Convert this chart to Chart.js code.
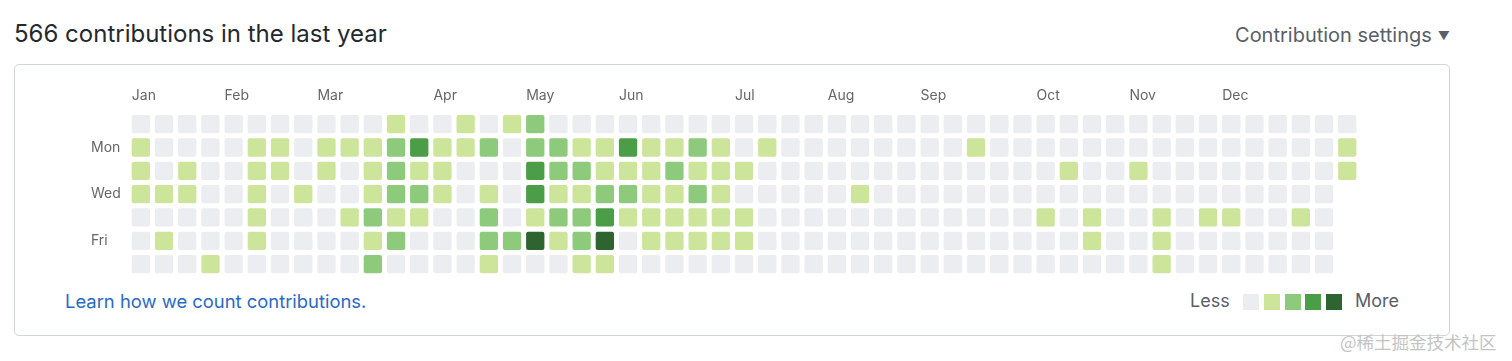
<!DOCTYPE html>
<html>
<head>
<meta charset="utf-8">
<script src="https://cdn.jsdelivr.net/npm/chart.js@4.4.1/dist/chart.umd.min.js"></script>
<style>
  body { margin: 0; background: #fff; font-family: Inter, "Liberation Sans", Arial, sans-serif; }
  #wrap { position: relative; width: 1512px; height: 361px; overflow: hidden; }
  .abs { position: absolute; white-space: nowrap; }
  #title { left: 14px; top: 19px; font-size: 24px; color: #24292e; }
  #settings { right: 62px; top: 23px; font-size: 20px; color: #586069; }
  #settings span { font-size: 12px; margin-left: 6px; position: relative; top: -2px; }
  #box { left: 14px; top: 64px; width: 1434px; height: 270px; border: 1px solid #d1d5da; border-radius: 5px; }
  #link { left: 65px; top: 290px; font-size: 18.4px; color: #2a6ac6; }
  #less { left: 1190px; top: 290px; font-size: 18px; color: #586069; }
  #more { left: 1355px; top: 290px; font-size: 18px; color: #586069; }
  .sq { position: absolute; top: 294px; width: 16px; height: 16px; }
  #mark { left: 1340px; top: 329px; font-size: 17.5px; color: #c4c4c4; font-family: "Noto Sans CJK SC", sans-serif; }
  #chart { position: absolute; left: 0; top: 0; }
</style>
</head>
<body>
<div id="wrap">
  <div class="abs" id="title">566 contributions in the last year</div>
  <div class="abs" id="settings">Contribution settings<span>&#9660;</span></div>
  <div class="abs" id="box"></div>
  <div class="abs" id="link">Learn how we count contributions.</div>
  <div class="abs" id="less">Less</div>
  <div class="abs" id="more">More</div>
  <div id="legend"></div>
  <div class="abs" id="mark">@稀土掘金技术社区</div>
  <canvas id="chart" width="1512" height="361"></canvas>
</div>
<script>
// contribution level (0-4) per week, one list per weekday
const sun = [0,0,0,0,0,0,0,0,0,0,0,1,0, 0,1,0,1,2,0,0,0,0,0,0,0,0, 0,0,0,0,0,0,0,0,0,0,0,0,0, 0,0,0,0,0,0,0,0,0,0,0,0,0,0];
const mon = [1,0,0,0,0,1,1,0,1,1,1,2,3, 1,1,2,0,2,2,1,1,3,1,1,2,1, 0,1,0,0,0,0,0,0,0,0,1,0,0, 0,0,0,0,0,0,0,0,0,0,0,0,0,1];
const tue = [1,0,1,0,0,1,1,0,1,0,1,2,1, 1,0,0,0,3,2,2,1,1,1,2,1,1, 1,0,0,0,0,0,0,0,0,0,0,0,0, 0,1,0,0,1,0,0,0,0,0,0,0,0,1];
const wed = [1,1,1,0,0,1,0,1,0,0,1,2,2, 1,0,1,0,3,1,1,2,2,1,1,2,1, 0,0,0,0,0,1,0,0,0,0,0,0,0, 0,0,0,0,0,0,0,0,0,0,0,0,0,null];
const thu = [0,0,0,0,0,1,0,0,0,1,2,1,1, 0,0,2,0,1,2,2,3,1,1,1,1,1, 1,0,0,0,0,0,0,0,0,0,0,0,0, 1,0,1,0,0,1,0,1,1,0,0,1,0,null];
const fri = [0,1,0,0,0,1,0,0,0,0,1,2,0, 0,0,2,2,4,1,2,4,0,1,1,1,1, 1,0,0,0,0,0,0,0,0,0,0,0,0, 0,0,1,0,0,1,0,0,0,0,0,0,0,null];
const sat = [0,0,0,1,0,0,0,0,0,0,2,0,0, 0,0,1,0,0,0,1,1,0,0,0,0,0, 0,0,0,0,0,0,0,0,0,0,0,0,0, 0,0,0,0,0,1,0,0,0,0,0,0,0,null];

const weeks = sun.map((_, i) => 'W' + (i + 1));
const monthLabels = ['Jan','Feb','Mar','Apr','May','Jun','Jul','Aug','Sep','Oct','Nov','Dec'];
const monthWeeks = [0, 4, 8, 13, 17, 21, 26, 30, 34, 39, 43, 47];
const dayLabels = ['Mon', 'Wed', 'Fri'];
const dayRows = [1, 3, 5];
const palette = ['#ebedf0', '#cde59a', '#8dca7c', '#4b9d47', '#2e6430'];

// legend squares
const legend = document.getElementById('legend');
palette.forEach((c, i) => {
  const d = document.createElement('div');
  d.className = 'sq';
  d.style.left = (1243 + i * 20.8) + 'px';
  d.style.background = c;
  legend.appendChild(d);
});

const rows = [sun, mon, tue, wed, thu, fri, sat];
const datasets = rows.map((lv, r) => ({
  data: lv.map(v => v === null ? null : [r + 0.108, r + 0.892]),
  backgroundColor: lv.map(v => v === null ? 'transparent' : palette[v]),
  grouped: false,
  barPercentage: 0.789,
  categoryPercentage: 1,
  borderRadius: 2,
  borderSkipped: false
}));

const tickFont = { size: 14, family: 'Inter, "Liberation Sans", Arial, sans-serif' };

new Chart(document.getElementById('chart'), {
  type: 'bar',
  data: { labels: weeks, datasets: datasets },
  options: {
    responsive: false,
    animation: false,
    layout: { padding: { left: 91, right: 153.15, top: 0, bottom: 85.2 } },
    plugins: { legend: { display: false }, tooltip: { enabled: false } },
    scales: {
      x: { type: 'category', display: false, offset: true },
      months: {
        type: 'linear', axis: 'x', position: 'top', bounds: 'data', offset: false,
        min: -0.5, max: 52.5,
        afterBuildTicks: s => { s.ticks = monthWeeks.map(w => ({ value: w - 0.39 })); },
        afterFit: s => { s.height = 112.5; },
        ticks: {
          align: 'start', autoSkip: false, maxRotation: 0, padding: 8,
          callback: (v, i) => monthLabels[i],
          font: tickFont, color: '#666'
        },
        grid: { display: false, drawTicks: false, offset: false },
        border: { display: false }
      },
      y: {
        type: 'linear', min: 0, max: 7, reverse: true, bounds: 'data',
        afterBuildTicks: s => { s.ticks = dayRows.map(r => ({ value: r + 0.5 })); },
        afterFit: s => { s.width = 38.25; },
        ticks: {
          crossAlign: 'far', autoSkip: false,
          callback: (v, i) => dayLabels[i],
          font: tickFont, color: '#666'
        },
        grid: { display: false, drawTicks: false },
        border: { display: false }
      }
    }
  }
});
</script>
</body>
</html>
